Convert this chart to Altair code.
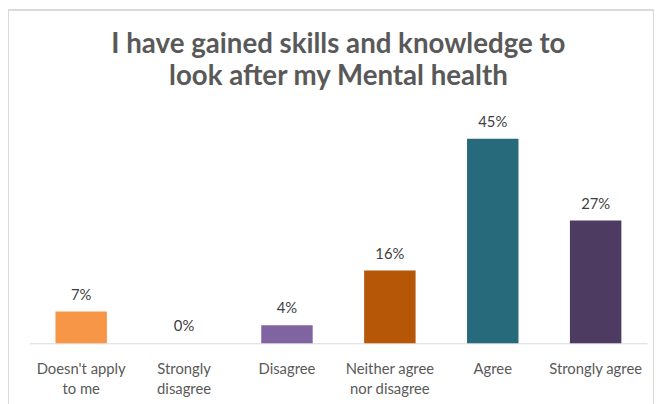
import altair as alt
import pandas as pd
import json

categories = ["Doesn't apply to me", "Strongly disagree", "Disagree",
              "Neither agree nor disagree", "Agree", "Strongly agree"]
label_lines = [["Doesn't apply", "to me"], ["Strongly", "disagree"], ["Disagree"],
               ["Neither agree", "nor disagree"], ["Agree"], ["Strongly agree"]]
values = [7, 0, 4, 16, 45, 27]
colors = ["#F79646", "#FFFFFF", "#8064A2", "#B65708", "#276A7C", "#4D3B62"]

df = pd.DataFrame({"category": categories, "value": values, "color": colors,
                   "label": [f"{v}%" for v in values]})

mapping = json.dumps({c: l for c, l in zip(categories, label_lines)})
label_expr = f"{mapping}[datum.label]"

FONT = "Lato"
GREY = "#595959"

x = alt.X("category:N", sort=categories, title=None,
          scale=alt.Scale(paddingInner=0.5, paddingOuter=0.25),
          axis=alt.Axis(labelExpr=label_expr, labelAngle=0, ticks=False,
                        domainColor="#D9D9D9", domainWidth=1,
                        labelFontSize=15, labelColor=GREY, labelFont=FONT,
                        labelPadding=19, labelLineHeight=20, grid=False))
y = alt.Y("value:Q", scale=alt.Scale(domain=[0, 50]), axis=None)

base = alt.Chart(df)
bars = base.mark_bar().encode(x=x, y=y, color=alt.Color("color:N", scale=None))
text = base.mark_text(baseline="alphabetic", dy=-12, fontSize=15, font=FONT,
                      color="#404040").encode(x=x, y=y, text="label:N")
border = base.mark_rect(fill=None, stroke="#D9D9D9", strokeWidth=1).encode(
    x=alt.value(-21.5), x2=alt.value(631.5), y=alt.value(-107.5), y2=alt.value(295))

chart = alt.layer(border, bars, text).properties(
    width=625, height=230,
    title=alt.TitleParams(
        ["I have gained skills and knowledge to", "look after my Mental health"],
        font=FONT, fontSize=28, fontWeight="bold", color=GREY,
        anchor="middle", frame="group", lineHeight=33, offset=-83),
    autosize=alt.AutoSizeParams(type="none"),
    padding={"left": 22, "top": 107, "right": 8, "bottom": 59},
).configure_view(stroke=None)

chart.save("out.html", embed_options={"renderer": "svg", "actions": False})
